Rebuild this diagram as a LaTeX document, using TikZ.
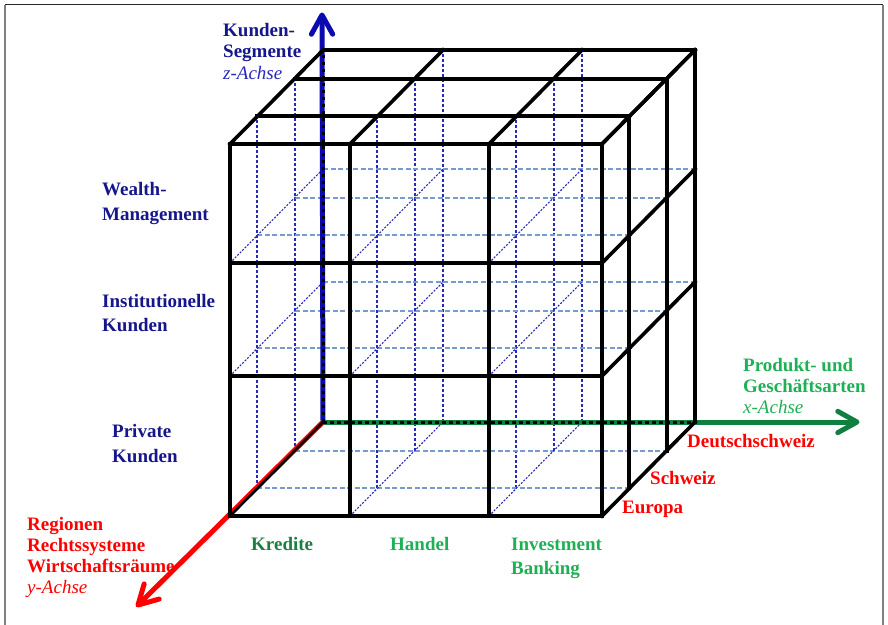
\documentclass[tikz,border=0pt]{standalone}
\usepackage{fontspec}
\setmainfont{Liberation Serif}
\usetikzlibrary{calc}
\definecolor{navytxt}{RGB}{22,22,140}
\definecolor{navyital}{RGB}{40,40,185}
\definecolor{zblue}{RGB}{10,10,175}
\definecolor{hidblue}{RGB}{40,40,185}
\definecolor{hidlight}{RGB}{120,155,205}
\definecolor{kgreen}{RGB}{26,128,64}
\definecolor{lgreen}{RGB}{30,176,84}
\definecolor{xgreen}{RGB}{16,128,64}
\definecolor{rred}{RGB}{255,0,0}
\newcommand\stk[1]{\begin{tabular}[t]{@{}l@{}}#1\end{tabular}}
% open chevron head at #1, pointing away from #2
\newcommand\chevron[3]{\draw[#3, line width=5pt, line cap=round, line join=round]
  ($(#1)!22pt!29:(#2)$) -- (#1) -- ($(#1)!22pt!-29:(#2)$);}
\begin{document}
\begin{tikzpicture}[x=1pt,y=-1pt,
  edge/.style={black, line width=3.6pt, line cap=rect},
  hidv/.style={hidblue, line width=1.1pt, dash pattern=on 3pt off 2pt},
  hidd/.style={hidblue, line width=1.1pt, dash pattern=on 2pt off 1.5pt},
  hidh/.style={hidlight, line width=1.4pt, dash pattern=on 5pt off 2.5pt},
  backedge/.style={black, line width=3pt, dash pattern=on 3.5pt off 3.5pt},
  axis/.style={line width=5pt},
  lbl/.style={inner sep=0pt, anchor=base west, font=\fontsize{19}{#1}\selectfont\bfseries},
  lbl/.default=24,
  frame/.style={gray, line width=1.2pt}]
\useasboundingbox (0,0) rectangle (888,624);
\draw[frame] (5,640) -- (5,4.5) (883,4.5) -- (883,640);
\draw[frame, black!85] (5,4.5) -- (883,4.5);

% grid points: i = product column, j = depth layer, k = height level
\foreach \i/\xx in {0/230,1/350,2/489,3/602}
  \foreach \j/\dx/\dy in {0/0/0,1/27/-28,2/65/-65,3/93/-94}
    \foreach \k/\yy in {0/516,1/376,2/263,3/144}
      \coordinate (p\i\j\k) at (\xx+\dx,\yy+\dy);

% hidden lines inside the cube
\foreach \i in {0,1,2}
  \foreach \j in {1,2,3}
    \draw[hidv] (p\i\j0) -- (p\i\j3);
\foreach \j in {1,2,3}
  \foreach \k in {0,1,2}
    \draw[hidh] (p0\j\k) -- (p3\j\k);
\foreach \i in {0,1,2}
  \foreach \k in {0,1,2}
    \draw[hidd] (p\i0\k) -- (p\i3\k);

% axes
\coordinate (ztip) at (322,15);
\coordinate (xtip) at (857,422);
\coordinate (ytip) at (138,605);
\draw[axis, zblue] (p030) -- (ztip);
\chevron{ztip}{p030}{zblue}
\draw[axis, xgreen] (p030) -- (xtip);
\chevron{xtip}{p030}{xgreen}
\draw[axis, rred] (p030) -- (ytip);
\chevron{ytip}{p030}{rred}
\draw[backedge] (p030) -- (p033);
\draw[backedge] (p030) -- (p330);
\draw[black, line width=2.6pt, shift={(1.3,1.3)}] (p000) -- (p030);

% visible edges: front, top and right faces
\foreach \i in {0,1,2,3} {
  \draw[edge] (p\i00) -- (p\i03);
  \draw[edge] (p\i03) -- (p\i33);
}
\foreach \k in {0,1,2,3} {
  \draw[edge] (p00\k) -- (p30\k);
  \draw[edge] (p30\k) -- (p33\k);
}
\foreach \j in {1,2,3} {
  \draw[edge] (p0\j3) -- (p3\j3);
  \draw[edge] (p3\j0) -- (p3\j3);
}

% z axis: customer segments
\node[lbl=21.5, navytxt] (zlab) at (223,36) {\stk{Kunden-\\Segmente\\\color{navyital}\mdseries\itshape z-Achse}};
\node[lbl=25, navytxt] (wm) at (102,195) {\stk{Wealth-\\Management}};
\node[lbl=24, navytxt] (ik) at (102,307) {\stk{Institutionelle\\Kunden}};
\node[lbl=25, navytxt] (pk) at (112,437) {\stk{Private\\Kunden}};

% x axis: products and business lines
\node[lbl=21, lgreen] (xlab) at (743,371) {\stk{Produkt- und\\Geschäftsarten\\\mdseries\itshape x-Achse}};
\node[lbl, kgreen] (kr) at (251,550) {Kredite};
\node[lbl, lgreen] (ha) at (390,550) {Handel};
\node[lbl=24, lgreen] (ib) at (511,550) {\stk{Investment\\Banking}};

% y axis: regions
\node[lbl=21, rred] (ylab) at (27,530) {\stk{Regionen\\Rechtssysteme\\Wirtschaftsräume\\\mdseries\itshape y-Achse}};
\node[lbl, rred] (ds) at (687,447) {Deutschschweiz};
\node[lbl, rred] (sch) at (650,484) {Schweiz};
\node[lbl, rred] (eu) at (622,513) {Europa};
\end{tikzpicture}
\end{document}
